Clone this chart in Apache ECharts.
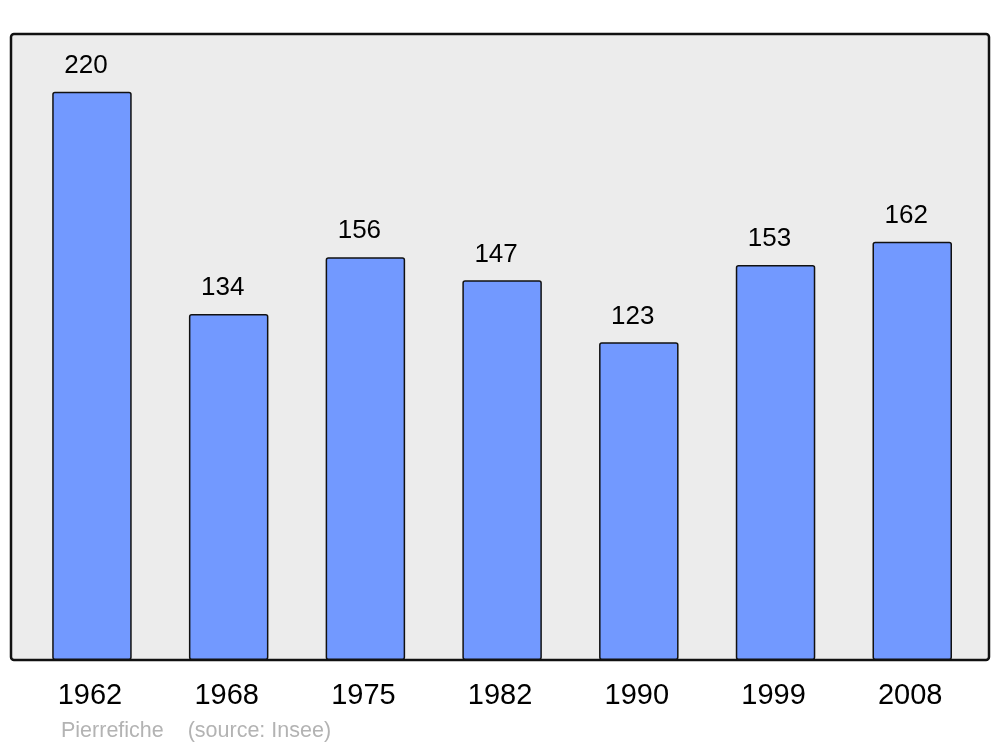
<!DOCTYPE html>
<html><head><meta charset="utf-8">
<script src="https://cdn.jsdelivr.net/npm/echarts@6/dist/echarts.min.js"></script>
<style>html,body{margin:0;padding:0;background:#fff}#c{width:1000px;height:747px}</style>
</head><body><div id="c"></div>
<script>
const years = ['1962','1968','1975','1982','1990','1999','2008'];
const population = [220,134,156,147,123,153,162];
const sourceText = 'Pierrefiche    (source: Insee)';

const chart = echarts.init(document.getElementById('c'), null, {renderer:'canvas'});
chart.setOption({
  animation:false,
  backgroundColor:'#ffffff',
  graphic:[
    {type:'rect', z:-10, shape:{x:11,y:34,width:978,height:626,r:3},
     style:{fill:'#ececec',stroke:'#111',lineWidth:2.5}},
    {type:'text', left:61, top:720, style:{text:sourceText, fill:'#b3b3b3', font:'21.5px "Liberation Sans", Arial, sans-serif'}}
  ],
  grid:{left:23.6, width:957, top:34, height:626},
  xAxis:{type:'category', data:years,
    axisLine:{show:false}, axisTick:{show:false},
    axisLabel:{color:'#000', fontSize:29, fontFamily:'"Liberation Sans", Arial, sans-serif', margin:21, padding:[0,4,0,0]}},
  yAxis:{type:'value', min:0, max:242.4, show:false, splitLine:{show:false}},
  series:[{type:'bar', data:population, barWidth:79.5,
    itemStyle:{color:'#7299ff', borderColor:'#111', borderWidth:1.5, borderRadius:2},
    label:{show:true, position:'top', distance:13, offset:[-6,0], color:'#000', fontSize:26,
      fontFamily:'"Liberation Sans", Arial, sans-serif'}}]
});
</script></body></html>
